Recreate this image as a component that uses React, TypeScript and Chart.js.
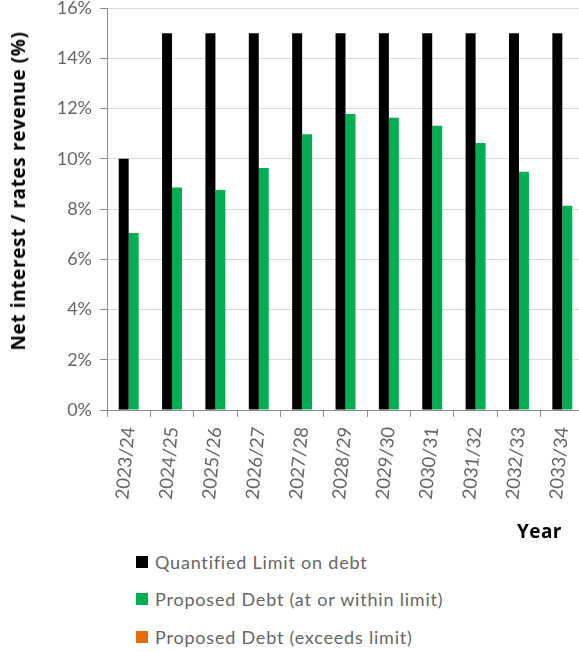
import React, { useEffect, useRef } from "react";
import { Chart, registerables } from "chart.js";

Chart.register(...registerables);

const categories = ["2023/24", "2024/25", "2025/26", "2026/27", "2027/28", "2028/29", "2029/30", "2030/31", "2031/32", "2032/33", "2033/34"];
const limitValues = [10, 15, 15, 15, 15, 15, 15, 15, 15, 15, 15];
const withinValues = [7.04, 8.86, 8.76, 9.63, 10.98, 11.78, 11.63, 11.31, 10.63, 9.48, 8.13];
const exceedsValues: (number | null)[] = [null, null, null, null, null, null, null, null, null, null, null];
const seriesNames = ["Quantified Limit on debt", "Proposed Debt (at or within limit)", "Proposed Debt (exceeds limit)"];
const seriesColors = ["#000000", "#00B050", "#E46C0A"];
const yTicks = [0, 2, 4, 6, 8, 10, 12, 14, 16];

const GREY_TEXT = "#666666";
const AXIS = "#8c8c8c";

export default function App() {
  const ref = useRef<HTMLCanvasElement | null>(null);
  useEffect(() => {
    if (!ref.current) return;
    const chart = new Chart(ref.current, {
      type: "bar",
      data: {
        labels: categories,
        datasets: [
          { label: seriesNames[0], data: limitValues, backgroundColor: seriesColors[0], skipNull: true } as any,
          { label: seriesNames[1], data: withinValues, backgroundColor: seriesColors[1], skipNull: true } as any,
          { label: seriesNames[2], data: exceedsValues, backgroundColor: seriesColors[2], skipNull: true } as any,
        ],
      },
      options: {
        responsive: false,
        animation: false,
        skipNull: true,
        datasets: { bar: { categoryPercentage: 0.46, barPercentage: 1.0, skipNull: true } },
        layout: { padding: { top: 8, left: 0, right: 0, bottom: 0 } },
        plugins: { legend: { display: false }, tooltip: { enabled: false }, title: { display: false } },
        scales: {
          x: {
            offset: true,
            grid: { drawOnChartArea: false, drawTicks: true, tickLength: 7, tickColor: AXIS, offset: true },
            border: { color: AXIS, width: 1 },
            ticks: {
              autoSkip: false,
              minRotation: 85,
              maxRotation: 85,
              padding: 9,
              color: GREY_TEXT,
              font: { family: "Lato", size: 18.5 },
            },
            afterFit: (scale: any) => {
              scale.height = 110;
              scale.paddingLeft = 0;
              scale.paddingRight = 0;
            },
          },
          y: {
            min: 0,
            max: 16,
            afterBuildTicks: (scale: any) => {
              scale.ticks = yTicks.map((v) => ({ value: v }));
            },
            grid: { color: "#d9d9d9", tickColor: AXIS, tickLength: 7, lineWidth: 1 },
            border: { color: AXIS, width: 1 },
            ticks: {
              padding: 8,
              color: GREY_TEXT,
              font: { family: "Lato", size: 18, lineHeight: 1 },
              callback: (v: any) => v + "%",
            },
            afterFit: (scale: any) => {
              scale.width = 107;
              scale.paddingTop = 0;
              scale.paddingBottom = 0;
            },
          },
        },
      } as any,
    });
    return () => chart.destroy();
  }, []);

  return (
    <div style={{ position: "fixed", left: 0, top: 0, width: 579, height: 652, overflow: "hidden", background: "#fff" }}>
      <canvas ref={ref} width={584} height={520} style={{ position: "absolute", left: 0, top: 0, width: 584, height: 520 }} />
      <div
        style={{
          position: "absolute",
          left: 18,
          top: 191,
          transform: "translate(-50%, -50%) rotate(-90deg)",
          whiteSpace: "nowrap",
          fontFamily: "'Open Sans'",
          fontWeight: 700,
          fontSize: 19,
          letterSpacing: "0.6px",
          color: "#000",
        }}
      >
        Net interest / rates revenue (%)
      </div>
      <div
        style={{
          position: "absolute",
          left: 517,
          top: 518,
          whiteSpace: "nowrap",
          fontFamily: "'Open Sans'",
          fontWeight: 700,
          fontSize: 19,
          letterSpacing: "0.4px",
          lineHeight: "26px",
          color: "#000",
        }}
      >
        Year
      </div>
      <div style={{ position: "absolute", left: 136, top: 543 }}>
        {seriesNames.map((name, i) => (
          <div key={name} style={{ display: "flex", alignItems: "center", height: 37.5 }}>
            <span style={{ display: "inline-block", width: 12, height: 12, background: seriesColors[i], marginRight: 7 }} />
            <span style={{ fontFamily: "Lato", fontSize: 18, letterSpacing: "0.8px", color: GREY_TEXT, whiteSpace: "nowrap" }}>{name}</span>
          </div>
        ))}
      </div>
    </div>
  );
}
